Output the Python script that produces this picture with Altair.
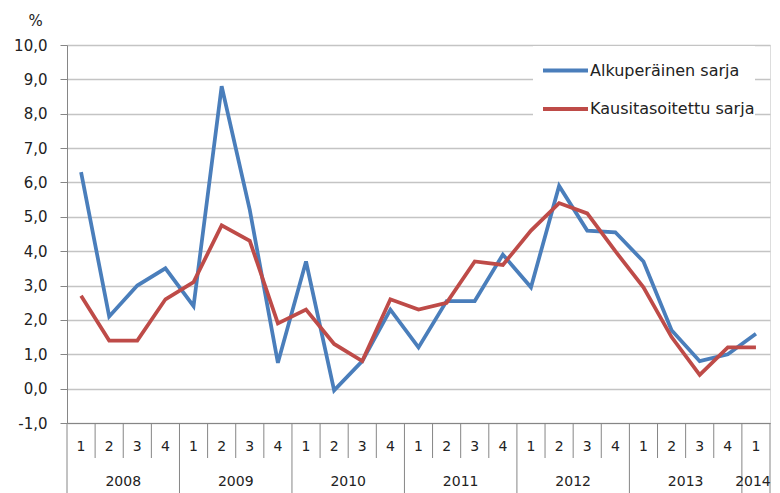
import altair as alt
import pandas as pd

years = ["2008", "2009", "2010", "2011", "2012", "2013", "2014"]
quarters = ["1", "2", "3", "4"] * 6 + ["1"]
series_names = ["Alkuperäinen sarja", "Kausitasoitettu sarja"]
alkuperainen = [6.3, 2.1, 3.0, 3.5, 2.4, 8.8, 5.2, 0.75,
                3.7, -0.05, 0.8, 2.3, 1.2, 2.55, 2.55, 3.9,
                2.95, 5.9, 4.6, 4.55, 3.7, 1.7, 0.8, 1.0, 1.6]
kausitasoitettu = [2.7, 1.4, 1.4, 2.6, 3.1, 4.75, 4.3, 1.9,
                   2.3, 1.3, 0.8, 2.6, 2.3, 2.5, 3.7, 3.6,
                   4.6, 5.4, 5.1, 4.0, 2.95, 1.5, 0.4, 1.2, 1.2]
colors = ["#4A7EBB", "#BE4B48"]

W, H = 703, 378
FONT = "DejaVu Sans"

n = len(quarters)
rows = []
for name, vals in zip(series_names, [alkuperainen, kausitasoitettu]):
    for i, v in enumerate(vals):
        rows.append({"pos": i + 0.5, "value": v, "series": name})
df = pd.DataFrame(rows)

qdf = pd.DataFrame({"pos": [i + 0.5 for i in range(n)], "label": quarters})
ydf = pd.DataFrame({
    "pos": [min(4 * k + 2, (4 * k + n) / 2) for k in range(len(years))],
    "label": years,
})
ydf_main = ydf.iloc[:-1]
ydf_last = ydf.iloc[-1:]
sep_short = pd.DataFrame({"pos": [k for k in range(n + 1) if k % 4 != 0 and k != n]})
sep_long = pd.DataFrame({"pos": [k for k in range(n + 1) if k % 4 == 0 or k == n]})

xscale = alt.Scale(domain=[0, n], nice=False, zero=False)
yscale = alt.Scale(domain=[-1, 10], nice=False, zero=False)

lines = alt.Chart(df).mark_line(strokeWidth=3.75).encode(
    x=alt.X("pos:Q", scale=xscale,
            axis=alt.Axis(labels=False, ticks=False, grid=False, title=None,
                          domainColor="#868686", domainWidth=1)),
    y=alt.Y("value:Q", scale=yscale,
            axis=alt.Axis(
                values=list(range(-1, 11)),
                labelExpr="replace(replace(format(datum.value, '.1f'), '.', ','), '\u2212', '-')",
                labelFont=FONT, labelFontSize=15, labelColor="#222222",
                labelPadding=13, tickSize=7, tickColor="#868686",
                domainColor="#868686", gridColor="#c4c4c4", gridWidth=1.5,
                title="%", titleAngle=0, titleFont=FONT, titleFontSize=15,
                titleFontWeight="normal", titleColor="#222222",
                titleAlign="center", titleBaseline="middle",
                titleX=-32, titleY=-25)),
    color=alt.Color("series:N",
                    scale=alt.Scale(domain=series_names, range=colors),
                    legend=alt.Legend(
                        orient="none", legendX=466, legendY=1, title=None,
                        symbolType="stroke", symbolSize=2025, symbolOffset=8,
                        symbolStrokeWidth=4, labelFont=FONT, labelFontSize=16,
                        labelColor="#222222", rowPadding=5.6, fillColor="white",
                        padding=0, labelOffset=0, labelLimit=400)),
    order=alt.Order("pos:Q"),
)

rule_short = alt.Chart(sep_short).mark_rule(color="#868686", strokeWidth=1).encode(
    x=alt.X("pos:Q", scale=xscale), y=alt.value(H), y2=alt.value(H + 35))
rule_long = alt.Chart(sep_long).mark_rule(color="#868686", strokeWidth=1).encode(
    x=alt.X("pos:Q", scale=xscale), y=alt.value(H), y2=alt.value(H + 80))

qtext = alt.Chart(qdf).mark_text(font=FONT, fontSize=14, color="#222222",
                                 baseline="middle").encode(
    x=alt.X("pos:Q", scale=xscale), y=alt.value(H + 24), text="label:N")
ytext = alt.Chart(ydf_main).mark_text(font=FONT, fontSize=14, color="#222222",
                                      baseline="middle").encode(
    x=alt.X("pos:Q", scale=xscale), y=alt.value(H + 59), text="label:N")
ytext_last = alt.Chart(ydf_last).mark_text(font=FONT, fontSize=14, color="#222222",
                                           baseline="middle", dx=-3).encode(
    x=alt.X("pos:Q", scale=xscale), y=alt.value(H + 59), text="label:N")

chart = alt.layer(lines, rule_short, rule_long, qtext, ytext, ytext_last).properties(
    width=W, height=H,
    autosize=alt.AutoSizeParams(type="none"),
    padding={"left": 59, "top": 37, "right": 2, "bottom": 70},
).configure_view(stroke=None).configure(background="white")

chart.save("out.html", embed_options={"renderer": "svg", "actions": False})
